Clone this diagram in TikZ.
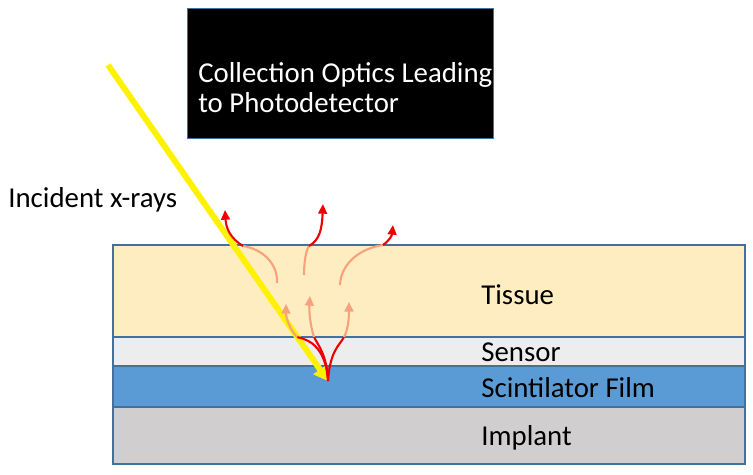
\documentclass[tikz,border=0pt]{standalone}
\usepackage{fontspec}
\setmainfont{Carlito}
\usetikzlibrary{arrows.meta}
\definecolor{tissuecol}{HTML}{FFEDC2}
\definecolor{sensorcol}{HTML}{EDEDED}
\definecolor{scintcol}{HTML}{5B9BD5}
\definecolor{implantcol}{HTML}{D0CECE}
\definecolor{edgecol}{HTML}{41719C}
\definecolor{glowcol}{HTML}{F7A27D}
\definecolor{emitcol}{HTML}{EE0000}
\tikzset{
  layer/.style={draw=edgecol, line width=0.6pt},
  layertext/.style={font=\fontsize{16.4}{19}\selectfont, anchor=west, inner sep=0pt},
  opticsbox/.style={fill=black, draw=edgecol, line width=0.4pt, minimum width=6.12cm, minimum height=2.6cm},
  opticstext/.style={font=\fontsize{16.4}{17}\selectfont, text=white, align=left, anchor=west, inner sep=0pt},
  xray/.style={line width=3.4pt, yellow, -{Triangle[length=8pt, width=9pt]}},
  emit/.style={line width=1.2pt, emitcol},
  emitarrow/.style={line width=1.2pt, emitcol, -{Triangle[length=5.5pt, width=5pt]}},
  glow/.style={line width=1.2pt, glowcol},
  glowarrow/.style={line width=1.2pt, glowcol, -{Triangle[length=5.5pt, width=5pt]}}
}
\begin{document}
\begin{tikzpicture}[x=0.02cm, y=-0.02cm]
    \useasboundingbox (0,0) rectangle (753,474);
    % layers: name / top / bottom / colour / text / text height
    \foreach \n/\ya/\yb/\c/\t/\ty in {tissue/245/337/tissuecol/Tissue/295, sensor/337/366/sensorcol/Sensor/352, scint/366/407/scintcol/Scintilator Film/388, implant/407/464/implantcol/Implant/438} {
      \draw[layer, fill=\c] (113,\ya) rectangle (745,\yb);
      \node[layertext] (\n) at (481,\ty) {\t};
    }

    \node[opticsbox] (optics) at (340,73) {};
    \node[opticstext] (opticslabel) at (198,88) {Collection Optics Leading\\to Photodetector};
    \node[layertext] (incident) at (8,200) {Incident x-rays};

    % points of the light paths
    \coordinate (src) at (328,381);
    \coordinate (xin) at (108,65);
    \coordinate (fanL) at (297,337);
    \coordinate (fanM) at (314,337);
    \coordinate (fanR) at (344,337);
    \coordinate (tipL) at (286,304);
    \coordinate (tipM) at (310,296);
    \coordinate (tipR) at (349,302);
    \coordinate (glowL) at (277,283);
    \coordinate (glowM) at (304,275);
    \coordinate (glowR) at (340,285);
    \coordinate (exitL) at (243,246);
    \coordinate (exitM) at (309,246);
    \coordinate (exitR) at (383,245);
    \coordinate (outL) at (225,210);
    \coordinate (outM) at (323,204);
    \coordinate (outR) at (393,225);

    \draw[xray] (xin) -- (src);

    % light from the film
    \draw[emit] (src) .. controls (326,350) and (312,340) .. (fanL);
    \draw[emit] (src) .. controls (327,355) and (318,345) .. (fanM);
    \draw[emit] (src) .. controls (330,350) and (340,345) .. (fanR);
    \draw[glowarrow] (fanL) .. controls (290,330) and (286,318) .. (tipL);
    \draw[glowarrow] (fanM) .. controls (310,325) and (309,310) .. (tipM);
    \draw[glowarrow] (fanR) .. controls (348,330) and (349,318) .. (tipR);

    % light leaving the tissue
    \draw[glow] (glowL) .. controls (278,263) and (262,249) .. (exitL);
    \draw[glow] (glowM) .. controls (304,262) and (306,250) .. (exitM);
    \draw[glow] (glowR) .. controls (341,262) and (362,248) .. (exitR);
    \draw[emitarrow] (exitL) .. controls (230,238) and (226,228) .. (outL);
    \draw[emitarrow] (exitM) .. controls (320,240) and (322,228) .. (outM);
    \draw[emitarrow] (exitR) .. controls (390,240) and (392,235) .. (outR);
\end{tikzpicture}
\end{document}
